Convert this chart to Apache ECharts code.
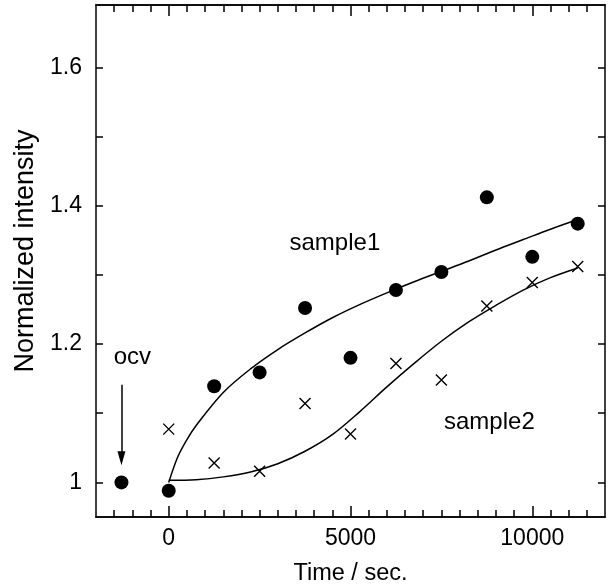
<!DOCTYPE html>
<html>
<head>
<meta charset="utf-8">
<script src="https://cdn.jsdelivr.net/npm/echarts@6/dist/echarts.min.js"></script>
<style>
  html, body { margin: 0; padding: 0; background: #fff; }
  #chart { width: 608px; height: 587px; }
</style>
</head>
<body>
<div id="chart"></div>
<script>
// measured points
const times1 = [-1300, 0, 1250, 2500, 3750, 5000, 6250, 7500, 8750, 10000, 11250]
const sample1 = [1.0, 0.988, 1.139, 1.159, 1.252, 1.18, 1.278, 1.304, 1.412, 1.326, 1.374]
const times2 = [0, 1250, 2500, 3750, 5000, 6250, 7500, 8750, 10000, 11250]
const sample2 = [1.077, 1.028, 1.016, 1.114, 1.07, 1.172, 1.148, 1.255, 1.289, 1.312]

// fitted curves
const fit1X = [0, 250, 500, 750, 1500, 2250, 3000, 3750, 4500, 5250, 6000, 6750, 7500, 8250, 9000, 9750, 10500, 11250]
const fit1Y = [1.0, 1.037, 1.062, 1.082, 1.13, 1.164, 1.192, 1.216, 1.238, 1.257, 1.274, 1.29, 1.305, 1.32, 1.336, 1.351, 1.366, 1.38]
const fit2X = [0, 750, 1500, 2250, 3000, 3750, 4500, 5250, 6000, 6750, 7500, 8250, 9000, 9750, 10500, 11250]
const fit2Y = [1.003, 1.004, 1.008, 1.015, 1.027, 1.045, 1.069, 1.102, 1.138, 1.172, 1.204, 1.232, 1.256, 1.278, 1.296, 1.31]

// axis ticks
const xMinorTicks = []
for (let t = -1500; t <= 11500; t += 500) xMinorTicks.push(t)
const xMajorTicks = [0, 5000, 10000]
const yTicks = [1.0, 1.1, 1.2, 1.3, 1.4, 1.5, 1.6]
const yLabels = [1.0, 1.2, 1.4, 1.6]

// annotations
const notes = [
  { name: 'sample1', value: [4570, 1.345] },
  { name: 'sample2', value: [8820, 1.087] },
  { name: 'ocv', value: [-1000, 1.18] },
]
const arrowFrom = [-1300, 1.141]
const arrowTo = [-1300, 1.035]

const font = "'Liberation Sans', Arial, sans-serif"
const ink = '#000'

const zip = (xs, ys) => xs.map((x, i) => [x, ys[i]])

const xBase = {
  type: 'value',
  min: -2000,
  max: 12000,
  splitLine: { show: false },
  axisLine: { show: true, onZero: false, lineStyle: { color: ink, width: 1.5 } },
}

const chart = echarts.init(document.getElementById('chart'))
chart.setOption({
  animation: false,
  backgroundColor: '#fff',
  grid: { left: 96, right: 3, top: 5, bottom: 70, containLabel: false, outerBoundsMode: 'none' },
  xAxis: [
    {
      ...xBase,
      position: 'bottom',
      name: 'Time / sec.',
      nameLocation: 'middle',
      nameGap: 45,
      nameTextStyle: { fontFamily: font, fontSize: 23.5, color: ink },
      axisTick: { inside: true, length: 7, customValues: xMinorTicks, lineStyle: { color: ink, width: 1.5 } },
      axisLabel: {
        customValues: xMajorTicks,
        margin: 10,
        fontFamily: font,
        fontSize: 23,
        color: ink,
        formatter: (v) => String(v),
      },
    },
    {
      ...xBase,
      position: 'bottom',
      axisTick: { inside: true, length: 11, customValues: xMajorTicks, lineStyle: { color: ink, width: 1.5 } },
      axisLabel: { show: false },
    },
    {
      ...xBase,
      position: 'top',
      axisTick: { inside: true, length: 7, customValues: xMinorTicks, lineStyle: { color: ink, width: 1.5 } },
      axisLabel: { show: false },
    },
    {
      ...xBase,
      position: 'top',
      axisTick: { inside: true, length: 11, customValues: xMajorTicks, lineStyle: { color: ink, width: 1.5 } },
      axisLabel: { show: false },
    },
  ],
  yAxis: [
    {
      type: 'value',
      min: 0.95,
      max: 1.69,
      position: 'left',
      name: 'Normalized intensity',
      nameLocation: 'middle',
      nameGap: 57,
      nameTextStyle: { fontFamily: font, fontSize: 27, color: ink, padding: [0, 0, 0, 20] },
      splitLine: { show: false },
      axisLine: { show: true, onZero: false, lineStyle: { color: ink, width: 1.5 } },
      axisTick: { inside: true, length: 7, customValues: yTicks, lineStyle: { color: ink, width: 1.5 } },
      axisLabel: {
        customValues: yLabels,
        margin: 14,
        fontFamily: font,
        fontSize: 23,
        color: ink,
        formatter: (v) => (v === 1 ? '1' : v.toFixed(1)),
      },
    },
    {
      type: 'value',
      min: 0.95,
      max: 1.69,
      position: 'right',
      splitLine: { show: false },
      axisLine: { show: true, onZero: false, lineStyle: { color: ink, width: 1.5 } },
      axisTick: { inside: true, length: 7, customValues: yTicks, lineStyle: { color: ink, width: 1.5 } },
      axisLabel: { show: false },
    },
  ],
  series: [
    {
      type: 'line',
      data: zip(fit1X, fit1Y),
      smooth: 0.33,
      showSymbol: false,
      lineStyle: { color: ink, width: 1.5 },
      silent: true,
    },
    {
      type: 'line',
      data: zip(fit2X, fit2Y),
      smooth: 0.33,
      showSymbol: false,
      lineStyle: { color: ink, width: 1.5 },
      silent: true,
      markLine: {
        silent: true,
        animation: false,
        label: { show: false },
        lineStyle: { color: ink, width: 1.5, type: 'solid' },
        data: [[
          { coord: arrowFrom, symbol: 'none' },
          { coord: arrowTo, symbol: 'triangle', symbolSize: [8, 14] },
        ]],
      },
    },
    {
      type: 'scatter',
      data: zip(times2, sample2),
      symbol: 'path://M0,0L10,10M10,0L0,10',
      symbolSize: 11,
      itemStyle: { color: 'rgba(0,0,0,0)', borderColor: ink, borderWidth: 1.4, opacity: 1 },
    },
    {
      type: 'scatter',
      data: zip(times1, sample1),
      symbol: 'circle',
      symbolSize: 14,
      itemStyle: { color: ink, opacity: 1 },
    },
    {
      type: 'scatter',
      data: notes,
      symbolSize: 0,
      silent: true,
      itemStyle: { opacity: 1 },
      label: {
        show: true,
        position: 'inside',
        formatter: (p) => p.name,
        fontFamily: font,
        fontSize: 24,
        color: ink,
        textBorderWidth: 0,
      },
    },
  ],
})
</script>
</body>
</html>
